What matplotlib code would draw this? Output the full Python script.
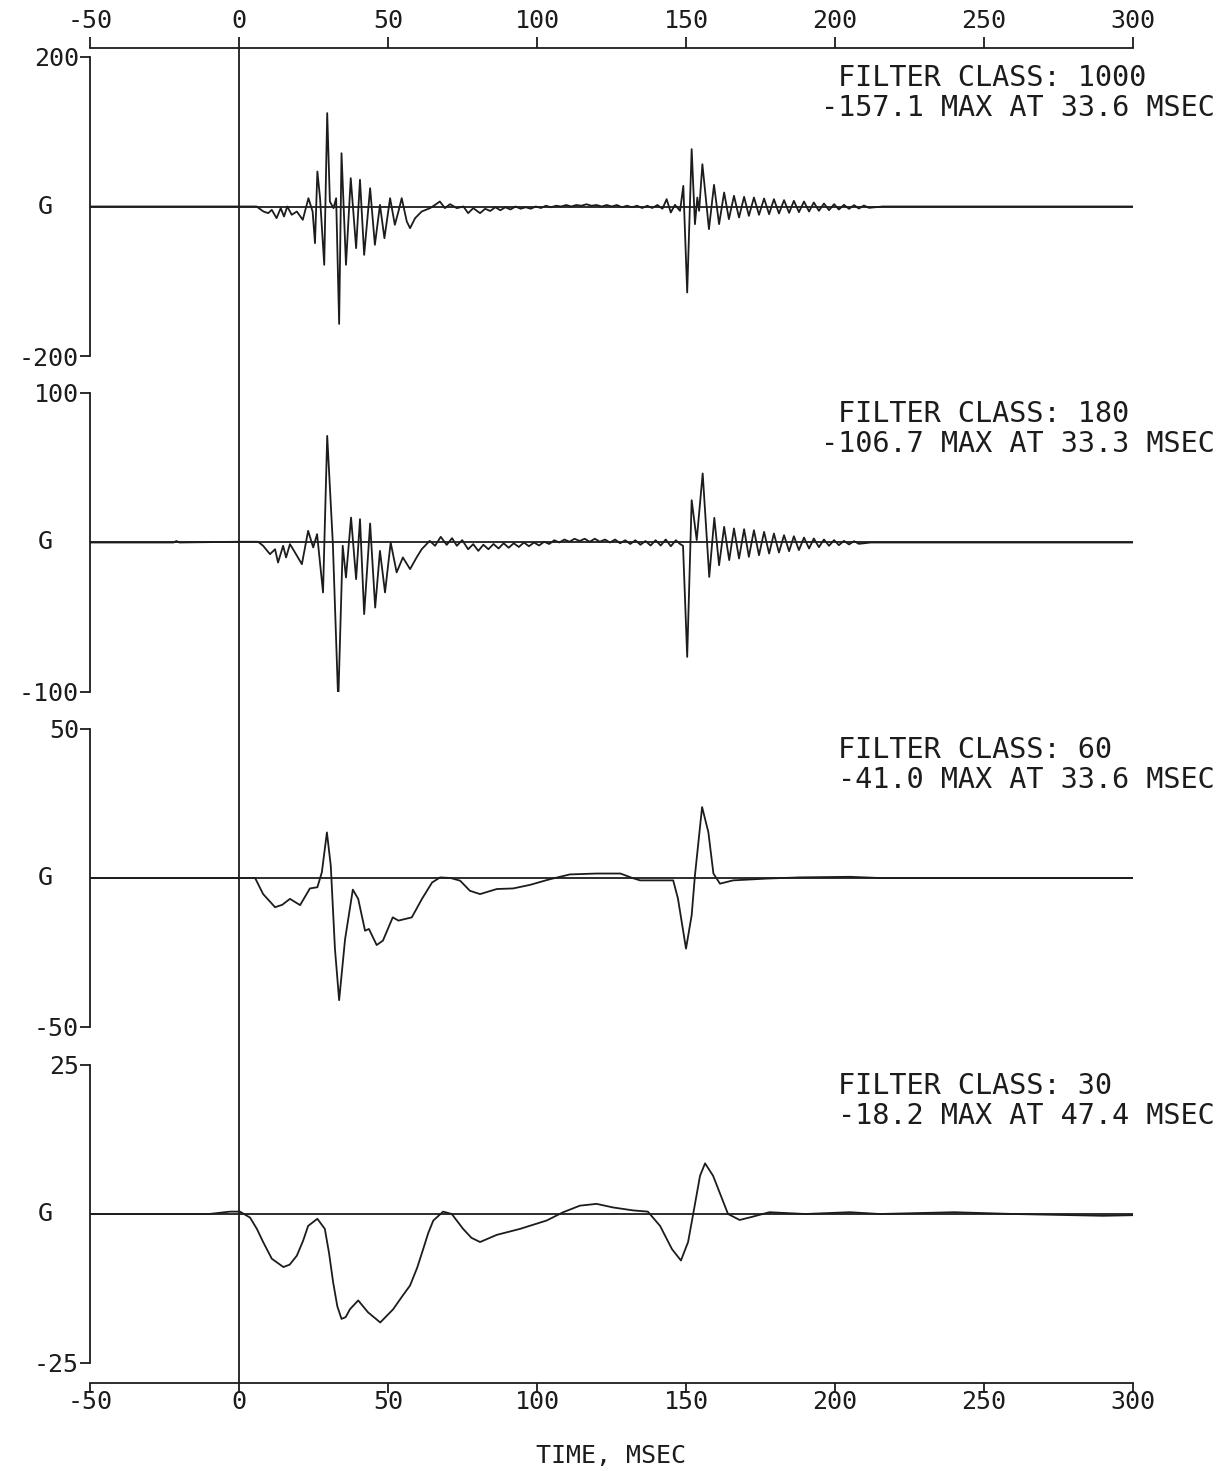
import numpy as np
import matplotlib
matplotlib.use("Agg")
import matplotlib.pyplot as plt

plt.rcParams['font.family'] = ['DejaVu Sans Mono']
plt.rcParams['axes.unicode_minus'] = False

# filter classes, panel limits, peak readouts
classes = [1000, 180, 60, 30]
limits = [200, 100, 50, 25]
peak_vals = [-157.1, -106.7, -41.0, -18.2]
peak_times = [33.6, 33.3, 33.6, 47.4]
xticks = [-50, 0, 50, 100, 150, 200, 250, 300]

# CFC 1000 trace (time msec, G)
t1000 = [-50, 0, 5.9, 8.2, 9.8, 11.0, 12.6, 14.0, 15.1, 16.2, 17.7, 19.4, 21.4, 23.3, 24.7,
         25.5, 26.3, 27.2, 28.6, 29.6, 30.5, 31.7, 32.6, 33.6, 34.4, 35.9, 37.5, 39.3, 40.6,
         42.0, 44.0, 45.6, 47.3, 48.8, 50.7, 52.3, 53.5, 54.6, 56.3, 57.4, 59.1, 61.3, 64.1,
         65.8, 67.4, 69.1, 70.8, 73.1, 75.3, 76.9, 78.6, 80.9,
         82.6, 84.3, 86.0, 87.7, 89.4, 91.1, 92.8, 94.5, 96.2, 97.9, 99.6, 101.3, 103.0, 104.7,
         106.4, 108.1, 109.8, 111.5, 113.2, 114.9, 116.6, 118.3, 120.0, 121.7, 123.4, 125.1,
         126.8, 128.5, 130.2, 131.9, 133.6, 135.3, 137.0, 138.7, 140.4, 142.1,
         143.5, 144.9, 146.3, 148.0, 149.1, 150.4, 151.9, 153.0, 153.8, 154.4, 155.5, 157.7,
         159.4, 161.1, 162.8, 164.4, 166.1, 167.8, 169.5, 171.1, 172.8, 174.5, 176.2, 177.9,
         179.5, 181.2, 182.9, 184.6, 186.2, 187.9, 189.6, 191.3, 192.9, 194.6, 196.3, 198.0,
         199.7, 201.3, 203.0, 204.7, 206.4, 208.0, 209.7, 211.4, 216, 300]
g1000 = [0, 0, 0, -6.7, -8.9, -4.5, -15.6, -2.2, -13.4, 0, -11.1, -6.7, -17.8, 11.1, -6.7,
         -49, 46.8, 11.1, -78, 124.9, 6.7, -2.2, 11.1, -157.1, 71.3, -78, 37.9, -55.7, 35.7,
         -64.7, 24.5, -51.3, 2.2, -42.4, 11.1, -24.5, -6.7, 11.1, -20, -29, -15.6, -6.7, -2.2,
         2.2, 6.7, -2.2, 3.1, -2.2, 0, -8.9, -2.2, -8.9,
         -3, -6, -1, -5, -1, -4, 0, -3, -1, -3, 0, -2, 1, -1,
         1, 0, 2, 0, 2, 1, 3, 1, 2, 0, 2, 0,
         2, -1, 1, -1, 1, -2, 1, -2, 2, -3,
         9.8, -8, 2.2, -5.8, 27.6, -115, 76.7, -23.6, 12, -5.8, 56.6, -30.3,
         29, -23.6, 18.7, -16.9, 14.3, -14.7, 12.9, -12.5, 12, -11.1, 10.7, -10.3,
         9.8, -9.4, 8.5, -8.5, 7.6, -7.6, 6.7, -6.7, 5.4, -5.8, 4, -4.9,
         3.1, -4, 2.2, -3.1, 1.8, -2.7, 1.3, -1.8, 0, 0]

# CFC 180 trace
t180 = [-50, -22, -21, -20, 0, 6.4, 8.1, 10.4, 12.1, 13.1, 14.8, 15.8, 17.1, 18.8, 21.1, 23.2,
        24.9, 26.2, 28.2, 29.6, 31.5, 33.3, 34.8, 35.9, 37.6, 39.3, 40.6, 42.0, 44.0, 45.7,
        47.3, 49.0, 50.9, 52.9, 55.0, 57.4, 59.6, 61.3, 64.0, 65.8, 67.7, 69.7, 71.5, 73.1,
        74.9, 76.9, 78.6, 80.3,
        82.0, 83.7, 85.4, 87.1, 88.8, 90.5, 92.2, 93.9, 95.6, 97.3, 99.0, 100.7, 102.4, 104.1,
        105.8, 107.5, 109.2, 110.9, 112.6, 114.3, 116.0, 117.7, 119.4, 121.1, 122.8, 124.5,
        126.2, 127.9, 129.6, 131.3, 133.0, 134.7, 136.4, 138.1, 139.8, 141.5, 143.2, 144.9,
        146.6, 148.0, 149.0, 150.4, 151.9, 153.6, 155.6, 157.8, 159.5, 161.1, 162.8, 164.5,
        166.1, 167.8, 169.5, 171.1, 172.8, 174.5, 176.2, 177.9, 179.5, 181.2, 182.9, 184.6,
        186.2, 187.9, 189.6, 191.3, 192.9, 194.6, 196.3, 198.0, 199.7, 201.3, 203.0, 204.7,
        206.4, 208.0, 212, 300]
g180 = [0, 0, 1, 0, 0.5, 0.5, -2.2, -7.8, -4.5, -13.4, -2.2, -10, -1.1, -6.7, -14.5, 7.8,
        -3.3, 5.6, -33.4, 71.3, -1.1, -106.7, -2.2, -23.4, 16.7, -24.5, 15.6, -47.9, 12.7, -43.5,
        -5.6, -33.4, 0, -20, -10, -17.8, -10, -4.5, 1.1, -2.2, 3.8, -1.6, 2.9, -2.2,
        1.6, -4.5, -1.1, -5.6,
        -1.5, -4.5, -1, -4, -0.5, -3.5, -0.5, -3, 0, -2.5, 0, -2, 0.5, -1,
        1.5, 0, 2, 0.5, 2.5, 1, 2.5, 0.5, 2.5, 0.5, 2, 0,
        2, -0.5, 1.5, -1, 1.5, -1.5, 1, -2, 1.5, -2, 2, -2.5,
        1.5, -1, -2.2, -76.5, 28.3, 1.6, 46.2, -23, 16.5, -15.2, 10.5, -11.8,
        9.4, -10.7, 8.9, -9.6, 8.2, -8.5, 7.1, -7.4, 6, -6.7, 4.9, -5.8,
        4.2, -5.1, 3.3, -4, 2.7, -3.1, 2, -2.2, 1.6, -1.8, 1.1, -1.3,
        0.9, -0.9, 0, 0]

# CFC 60 trace
t60 = [-50, 0, 5.4, 8.1, 12.1, 14.5, 17.1, 20.5, 23.8, 26.3, 27.8, 29.5, 30.8, 32.2, 33.6,
       35.6, 38.2, 40.0, 42.3, 43.6, 46.2, 48.3, 51.6, 53.5, 58.0, 61.4, 64.8, 67.5, 71,
       74.2, 77.5, 80.9, 86.5, 92.0, 97.7, 104, 111, 120, 128, 132, 134.6, 143.6, 145.7,
       147.3, 150.0, 151.9, 153.0, 155.4, 157.5, 159.2, 161.4, 165.8, 177, 188, 205, 215, 300]
g60 = [0, 0, 0, -5.4, -9.8, -9, -7, -9.1, -3.5, -3.1, 1.9, 15.3, 4.1, -23.8, -41.0,
       -20.5, -3.9, -7, -17.7, -17.1, -22.5, -21, -13.2, -14.3, -13.2, -7, -1.5, 0.2, 0,
       -0.9, -4.3, -5.4, -3.7, -3.5, -2.3, -0.5, 1.2, 1.5, 1.5, 0, -0.8, -0.8, -0.8,
       -6.9, -23.7, -12.5, 0.9, 23.8, 15.4, 1.5, -1.9, -0.8, -0.2, 0.2, 0.4, 0, 0]

# CFC 30 trace
t30 = [-50, -10, -3, 0.3, 3.7, 6, 8.1, 11, 14.9, 17, 19.4, 21.5, 23.2, 26.3, 28.8, 30.2,
       31.6, 33, 34.4, 35.8, 37.2, 40, 43.3, 47.4, 51.7, 54.5, 57.4, 59.8, 61.8, 63.5,
       65.2, 68.5, 71.4, 75.2, 78, 80.9, 86.5, 94.3, 103.2, 108.8, 114.4, 120, 125.5, 132.3,
       137.2, 141.3, 145.3, 148.3, 150.7, 152.7, 154.7, 156.4, 159.1, 164.1, 168, 172, 178,
       190, 205, 215, 240, 260, 290, 300]
g30 = [0, 0, 0.4, 0.4, -0.6, -2.5, -4.7, -7.5, -8.9, -8.5, -7, -4.5, -2, -0.8, -2.5, -6.5,
       -11.5, -15.5, -17.6, -17.3, -16, -14.5, -16.5, -18.2, -16, -14, -12, -9, -5.9, -3.2,
       -1.1, 0.4, 0, -2.5, -4, -4.7, -3.5, -2.5, -1.1, 0.3, 1.4, 1.7, 1.1, 0.6,
       0.4, -2, -5.9, -7.8, -4.7, 0.8, 6.4, 8.5, 6.4, 0, -1, -0.5, 0.3,
       0, 0.3, 0, 0.3, 0, -0.3, -0.2]

traces = [(t1000, g1000), (t180, g180), (t60, g60), (t30, g30)]

W, H = 1221, 1471
ink = '#1c1c1c'
lw = 1.3
fs = 18


def rect(x0, y0, x1, y1):
    return [x0 / W, 1 - y1 / H, (x1 - x0) / W, (y1 - y0) / H]


fig = plt.figure(figsize=(W / 100, H / 100), dpi=100)

# frame with bottom time axis and the t=0 line
frame = fig.add_axes(rect(90, 48, 1133, 1383))
frame.set_xlim(-50, 300)
frame.set_ylim(0, 1)
frame.patch.set_alpha(0)
for s in ['left', 'right', 'top']:
    frame.spines[s].set_visible(False)
frame.spines['bottom'].set_color(ink)
frame.spines['bottom'].set_linewidth(lw)
frame.set_yticks([])
frame.set_xticks(xticks)
frame.set_xticklabels([str(v) for v in xticks])
frame.tick_params(axis='x', direction='out', length=7, width=lw, color=ink,
                  labelsize=fs, labelcolor=ink, pad=-2)
frame.axvline(0, color=ink, lw=lw)
frame.set_xlabel('TIME, MSEC', fontsize=fs, color=ink, labelpad=22)

# top time axis
top = frame.secondary_xaxis('top')
top.set_xticks(xticks)
top.set_xticklabels([str(v) for v in xticks])
top.spines['top'].set_color(ink)
top.spines['top'].set_linewidth(lw)
top.tick_params(axis='x', direction='out', length=8, width=lw, color=ink,
                labelsize=fs, labelcolor=ink, pad=3)

tops = [57, 393, 729, 1065]
bots = [356, 692, 1027, 1363]

for i in range(4):
    ax = fig.add_axes(rect(90, tops[i], 1133, bots[i]))
    ax.patch.set_alpha(0)
    lim = limits[i]
    ax.set_xlim(-50, 300)
    ax.set_ylim(-lim, lim)
    for s in ['top', 'right', 'bottom']:
        ax.spines[s].set_visible(False)
    ax.spines['left'].set_color(ink)
    ax.spines['left'].set_linewidth(lw)
    ax.set_xticks([])
    ax.set_yticks([lim, -lim])
    ax.set_yticklabels([str(lim), str(-lim)])
    ax.tick_params(axis='y', direction='out', length=7, width=lw, color=ink,
                   labelsize=fs, labelcolor=ink, pad=1)
    ax.axhline(0, color=ink, lw=lw)
    t, g = traces[i]
    ax.plot(t, g, color=ink, lw=lw)
    ax.text(-0.043, 0, 'G', transform=ax.get_yaxis_transform(), ha='center',
            va='center', fontsize=fs, color=ink)
    fig.text(838 / W, 1 - (tops[i] + 21) / H, 'FILTER CLASS: %d' % classes[i],
             ha='left', va='center', fontsize=20.5, color=ink)
    fig.text(1215 / W, 1 - (tops[i] + 51) / H,
             '%.1f MAX AT %.1f MSEC' % (peak_vals[i], peak_times[i]),
             ha='right', va='center', fontsize=20.5, color=ink)

fig.savefig('out.png', dpi=100, facecolor='white')
